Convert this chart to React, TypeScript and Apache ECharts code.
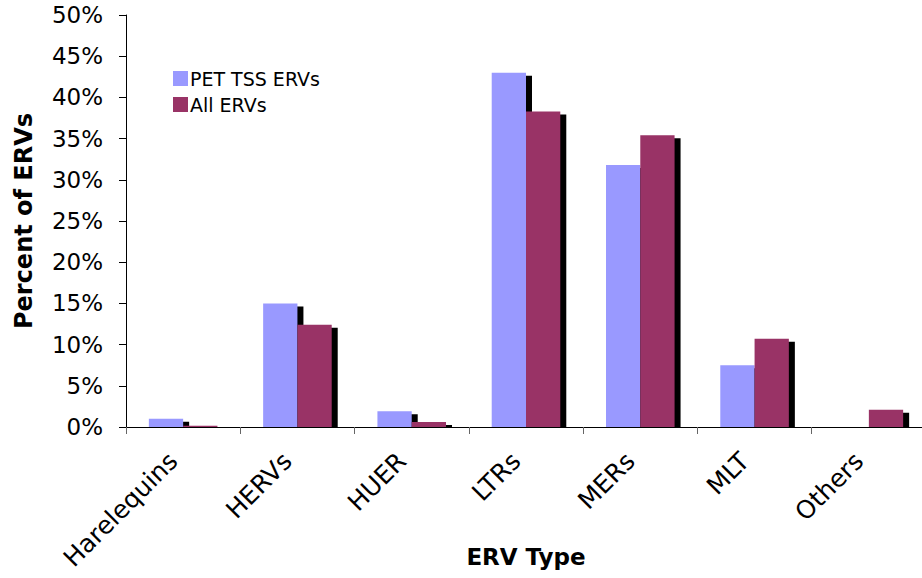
import React, { useEffect, useRef } from "react";
import * as echarts from "echarts";

const categories = ["Harelequins", "HERVs", "HUER", "LTRs", "MERs", "MLT", "Others"];
const petTssErvs = [1.0, 15.0, 1.9, 43.0, 31.8, 7.5, 0];
const allErvs = [0.15, 12.4, 0.6, 38.3, 35.4, 10.7, 2.1];
const seriesNames = ["PET TSS ERVs", "All ERVs"];

const FONT = "'DejaVu Sans', Verdana, sans-serif";
const BAR_RATIO = 0.3; // each bar's share of a category band
const SHADOW_DX = 6;
const SHADOW_DY = 3;

// Black drop shadow behind a bar, cut off at the baseline.
function shadowSeries(values: number[], slot: number, z: number) {
  return {
    type: "custom",
    z,
    silent: true,
    legendHoverLink: false,
    data: values.map((v, i) => [i, v]),
    encode: { x: 0, y: 1 },
    renderItem: (_params: any, api: any) => {
      const i = api.value(0);
      const v = api.value(1);
      const base = api.coord([i, 0]);
      const top = api.coord([i, v]);
      const bw = api.size([1, 0])[0] * BAR_RATIO;
      const x0 = base[0] + (slot - 1) * bw + SHADOW_DX;
      const y0 = top[1] + SHADOW_DY;
      const h = Math.max(0, base[1] - y0);
      return {
        type: "rect",
        shape: { x: x0, y: y0, width: bw, height: h },
        style: { fill: "#000000" },
      };
    },
  };
}

export default function App() {
  const ref = useRef<HTMLDivElement>(null);

  useEffect(() => {
    document.body.style.margin = "0";
    if (!ref.current) return;
    const chart = echarts.init(ref.current, null, { renderer: "svg" });

    chart.setOption({
      animation: false,
      backgroundColor: "#ffffff",
      textStyle: { fontFamily: FONT, color: "#000" },
      grid: {
        left: 126,
        top: 15,
        width: 800,
        height: 412,
        containLabel: false,
        outerBoundsMode: "none",
      },
      legend: {
        orient: "vertical",
        left: 168,
        top: 64,
        icon: "rect",
        itemWidth: 15,
        itemHeight: 15,
        itemGap: 7,
        data: seriesNames,
        textStyle: { fontFamily: FONT, fontSize: 19, color: "#000", padding: [0, 0, 0, -3] },
      },
      xAxis: {
        type: "category",
        data: categories,
        name: "ERV Type",
        nameLocation: "middle",
        nameGap: 118,
        nameMoveOverlap: false,
        nameTextStyle: { fontFamily: FONT, fontSize: 23, fontWeight: "bold", color: "#000" },
        axisLine: { lineStyle: { color: "#000", width: 1 } },
        axisTick: { show: true, length: 7, lineStyle: { color: "#666" } },
        axisLabel: {
          rotate: 45,
          margin: 20,
          padding: [0, 14, 0, 0],
          fontFamily: FONT,
          fontSize: 25,
          color: "#000",
        },
      },
      yAxis: {
        type: "value",
        min: 0,
        max: 50,
        interval: 5,
        name: "Percent of ERVs",
        nameLocation: "middle",
        nameRotate: 90,
        nameGap: 90,
        nameMoveOverlap: false,
        nameTextStyle: { fontFamily: FONT, fontSize: 24, fontWeight: "bold", color: "#000" },
        axisLine: { show: true, lineStyle: { color: "#000", width: 1 } },
        axisTick: { show: true, length: 7, lineStyle: { color: "#000" } },
        splitLine: { show: false },
        axisLabel: {
          formatter: "{value}%",
          margin: 23,
          fontFamily: FONT,
          fontSize: 23,
          color: "#000",
        },
      },
      series: [
        shadowSeries(petTssErvs, 0, 2),
        {
          name: seriesNames[0],
          type: "bar",
          z: 3,
          data: petTssErvs,
          barGap: "0%",
          barCategoryGap: "40%",
          itemStyle: { color: "#9999ff" },
        },
        shadowSeries(allErvs, 1, 4),
        {
          name: seriesNames[1],
          type: "bar",
          z: 5,
          data: allErvs,
          barGap: "0%",
          barCategoryGap: "40%",
          itemStyle: { color: "#993366" },
        },
      ],
    });

    return () => chart.dispose();
  }, []);

  return <div ref={ref} style={{ width: 922, height: 578 }} />;
}
